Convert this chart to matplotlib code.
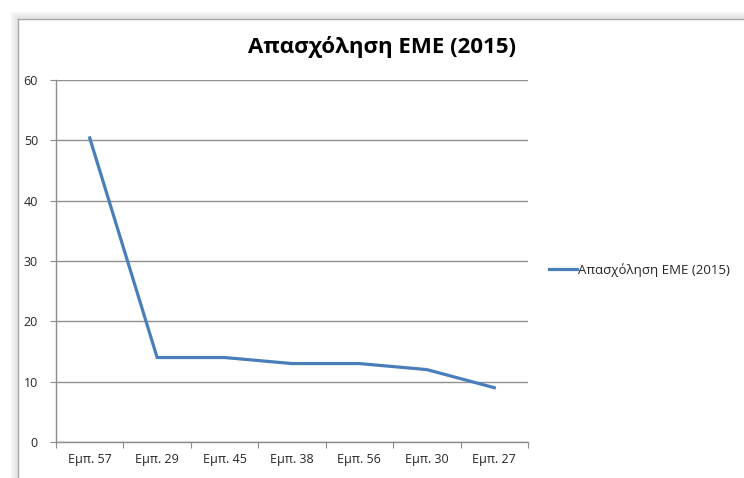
import matplotlib
matplotlib.use("Agg")
import matplotlib.pyplot as plt
from matplotlib.lines import Line2D

categories = ["Εμπ. 57", "Εμπ. 29", "Εμπ. 45", "Εμπ. 38", "Εμπ. 56", "Εμπ. 30", "Εμπ. 27"]
values = [50.4, 14, 14, 13, 13, 12, 9]
series_name = "Απασχόληση ΕΜΕ (2015)"
title = "Απασχόληση ΕΜΕ (2015)"
yticks = [0, 10, 20, 30, 40, 50, 60]

plt.rcParams['font.family'] = ['Open Sans', 'DejaVu Sans']

W, H = 744, 478
fig = plt.figure(figsize=(W / 100, H / 100), dpi=100)
fig.patch.set_facecolor("white")

def fx(px):
    return px / W

def fy(py):
    return 1 - py / H

# Excel-like chart frame (top and left border with soft shadow)
for off, col in [(6, "#f5f5f5"), (4, "#eeeeee"), (2, "#e6e6e6")]:
    fig.add_artist(Line2D([fx(18 - off), 1], [fy(19 - off), fy(19 - off)], color=col, lw=2.0,
                          transform=fig.transFigure))
    fig.add_artist(Line2D([fx(18 - off), fx(18 - off)], [fy(19 - off), 0], color=col, lw=2.0,
                          transform=fig.transFigure))
fig.add_artist(Line2D([fx(18), 1], [fy(19), fy(19)], color="#a6a6a6", lw=1.0,
                      transform=fig.transFigure))
fig.add_artist(Line2D([fx(18), fx(18)], [fy(19), 0], color="#a6a6a6", lw=1.0,
                      transform=fig.transFigure))

ax = fig.add_axes([fx(56), fy(442), fx(528) - fx(56), fy(80) - fy(442)])
x = list(range(len(categories)))
ax.plot(x, values, color="#4A7EBB", lw=2.3, solid_joinstyle="miter", label=series_name, zorder=3)

ax.set_xlim(-0.5, len(categories) - 0.5)
ax.set_ylim(0, 60)
ax.set_yticks(yticks)
ax.set_yticklabels([str(v) for v in yticks])
ax.set_xticks([i - 0.5 for i in range(len(categories) + 1)])
ax.set_xticklabels([])
ax.set_xticks(x, minor=True)
ax.set_xticklabels(categories, minor=True)

ax.yaxis.grid(True, color="#909090", lw=1.0)
ax.set_axisbelow(True)
for s in ["top", "right"]:
    ax.spines[s].set_visible(False)
for s in ["left", "bottom"]:
    ax.spines[s].set_color("#8c8c8c")
    ax.spines[s].set_linewidth(1.0)

ax.tick_params(axis="y", which="major", direction="out", length=4, color="#8c8c8c",
               labelsize=9, labelcolor="#262626", pad=9)
ax.tick_params(axis="x", which="major", direction="out", length=4, color="#8c8c8c")
ax.tick_params(axis="x", which="minor", length=0, labelsize=9, labelcolor="#262626", pad=8)

fig.text(fx(382), fy(47), title, ha="center", va="center", fontsize=16,
         fontweight="bold", color="black")

handle = Line2D([], [], color="#4A7EBB", lw=2.3)
fig.legend([handle], [series_name], loc="center left", bbox_to_anchor=(fx(549), fy(270)),
           frameon=False, handlelength=2.1, handletextpad=0.1, borderpad=0,
           borderaxespad=0, fontsize=9.5, labelcolor="#262626")

fig.savefig("out.png", dpi=100, facecolor="white")
